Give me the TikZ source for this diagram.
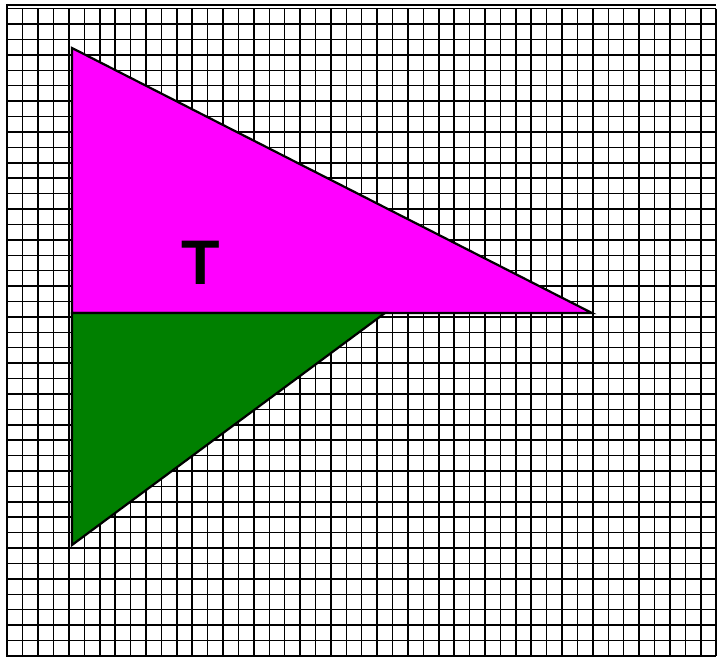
\documentclass[tikz,border=0pt]{standalone}
\usepackage{fontspec}
\setmainfont{Liberation Sans}
\definecolor{leafgreen}{RGB}{0,128,0}
\definecolor{puremagenta}{RGB}{255,0,255}
\begin{document}
\begin{tikzpicture}[x=1pt,y=-1pt,gridline/.style={black, line width=1.5pt},frame/.style={black, line width=2.2pt},edge/.style={black, line width=2.2pt, line join=miter},letter/.style={font=\fontsize{63}{63}\selectfont\bfseries, inner sep=0pt}]
\useasboundingbox (0,0) rectangle (718,661);
\fill[white] (0,0) rectangle (718,661);
\foreach \i in {0,...,46} \draw[gridline] (7.3+\i*15.41,8.7) -- (7.3+\i*15.41,655.9);
\foreach \j in {0,...,42} \draw[gridline] (7.3,8.7+\j*15.41) -- (716.2,8.7+\j*15.41);
\draw[frame] (7.3,5) -- (716.2,5); \draw[frame] (7.3,4) -- (7.3,656.5);
\coordinate (A) at (72,48); \coordinate (B) at (72,313); \coordinate (C) at (592,313); \coordinate (D) at (385,313); \coordinate (E) at (72,545);
\filldraw[edge, fill=puremagenta] (A) -- (B) -- (C) -- cycle;
\filldraw[edge, fill=leafgreen] (B) -- (D) -- (E) -- cycle;
\node[letter] (tlabel) at (200.5,262.5) {T};
\end{tikzpicture}
\end{document}
